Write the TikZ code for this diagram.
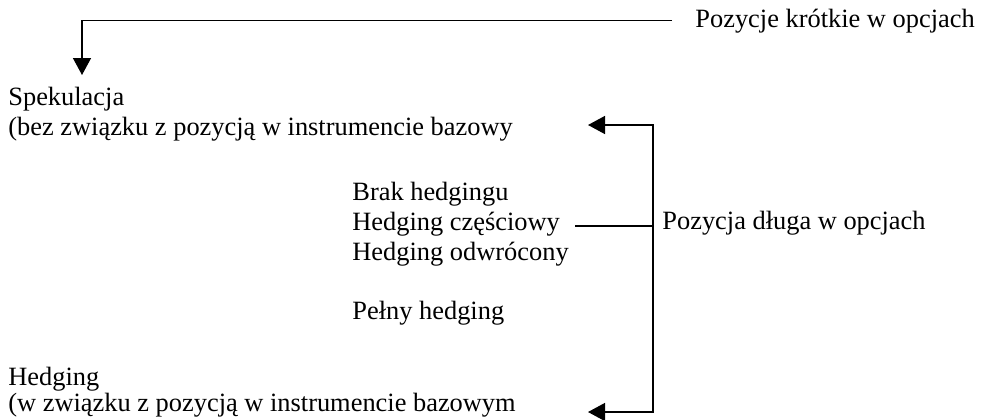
\documentclass[tikz,border=0pt]{standalone}
\usepackage{fontspec}
\setmainfont{Liberation Serif}
\usetikzlibrary{arrows.meta}
\tikzset{
  label text/.style={inner sep=0pt, anchor=base west, font=\fontsize{13.2}{15}\selectfont},
  flow/.style={line width=0.75pt},
  flow arrow/.style={flow, -{Triangle[length=8.5pt,width=9pt]}},
}
\begin{document}
\begin{tikzpicture}[x=0.5pt,y=-0.5pt]
\useasboundingbox (0,0) rectangle (984,419);
% texts
\node[label text] (krotkie) at (695,27) {Pozycje krótkie w opcjach};
\node[label text] (spek) at (8,105) {Spekulacja};
\node[label text] (bez) at (8,135) {(bez związku z pozycją w instrumencie bazowy};
\node[label text] (brak) at (352,200) {Brak hedgingu};
\node[label text] (czesc) at (352,230) {Hedging częściowy};
\node[label text] (odwr) at (352,260) {Hedging odwrócony};
\node[label text] (pelny) at (352,319) {Pełny hedging};
\node[label text] (dluga) at (662,229) {Pozycja długa w opcjach};
\node[label text] (hedg) at (8,385) {Hedging};
\node[label text] (wzw) at (8,411) {(w związku z pozycją w instrumencie bazowym};
% connectors
\coordinate (spek tip) at (82,75);
\coordinate (brace) at (653,226);
\coordinate (bez tip) at (588,125);
\coordinate (wzw tip) at (588,412);
\draw[flow arrow, shorten <=11.5pt] (krotkie.west) -| (spek tip);
\draw[flow, shorten <=7.5pt] (czesc.east |- brace) -- (brace);
\draw[flow arrow] (brace) |- (bez tip);
\draw[flow arrow] (brace) |- (wzw tip);
\end{tikzpicture}
\end{document}
